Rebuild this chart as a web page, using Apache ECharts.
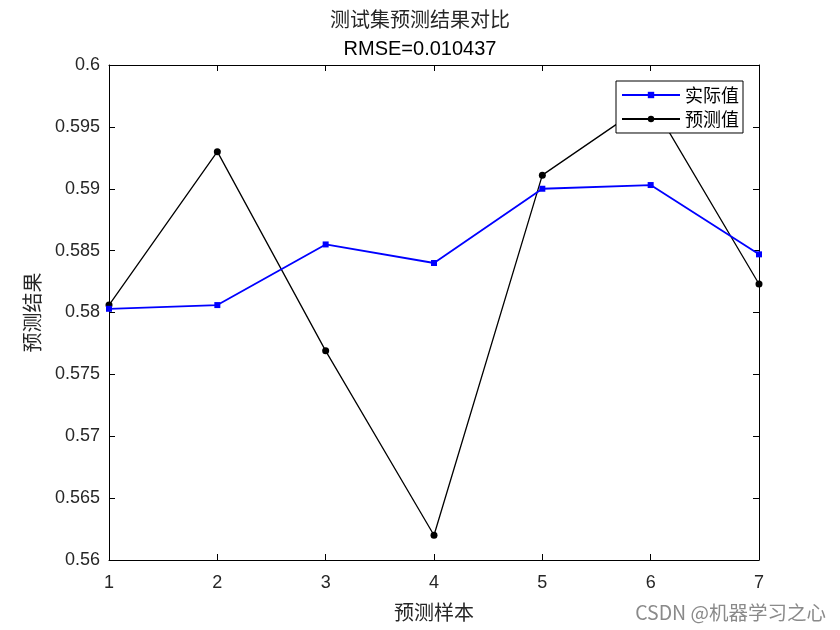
<!DOCTYPE html>
<html><head><meta charset="utf-8">
<script src="https://cdn.jsdelivr.net/npm/echarts@6/dist/echarts.min.js"></script>
<style>html,body{margin:0;padding:0;background:#fff}#c{width:840px;height:630px}</style>
</head><body><div id="c"></div>
<script>
const samples = [1, 2, 3, 4, 5, 6, 7];
const actual = [0.5803, 0.5806, 0.5855, 0.5840, 0.5900, 0.5903, 0.5847];
const predicted = [0.5806, 0.5930, 0.5769, 0.5620, 0.5911, 0.5971, 0.5823];
const titleText = '测试集预测结果对比';
const subText = 'RMSE=0.010437';
const seriesNames = ['实际值', '预测值'];
const xName = '预测样本';
const yName = '预测结果';

const chart = echarts.init(document.getElementById('c'));
const latin = 'Liberation Sans, Arial, sans-serif';
const cjk = 'Noto Sans CJK SC, sans-serif';
const pairs = arr => samples.map((s, i) => [s, arr[i]]);
const fmt = v => String(+(+v).toFixed(3));

chart.setOption({
  backgroundColor: '#fff',
  animation: false,
  title: [
    {text: titleText, left: 'center', top: 4, textStyle: {fontFamily: cjk, fontSize: 20, fontWeight: 'normal', color: '#262626'}},
    {text: subText, left: 'center', top: 34, textStyle: {fontFamily: latin, fontSize: 20, fontWeight: 'normal', color: '#000'}}
  ],
  legend: {
    right: 97, top: 81, orient: 'vertical',
    backgroundColor: '#fff', borderColor: '#000', borderWidth: 1, borderRadius: 0,
    padding: [5, 4, 5, 5], itemGap: 6, itemWidth: 58, itemHeight: 8,
    textStyle: {fontFamily: cjk, fontSize: 18, color: '#000'},
    data: [seriesNames[0], seriesNames[1]]
  },
  grid: {left: 109, right: 81, top: 65, bottom: 70, outerBoundsMode: 'none', containLabel: false},
  xAxis: [{
    type: 'value', min: 1, max: 7, interval: 1,
    name: xName, nameLocation: 'middle', nameGap: 42,
    nameTextStyle: {fontFamily: cjk, fontSize: 20, color: '#262626'},
    axisLine: {lineStyle: {color: '#000'}},
    axisTick: {inside: true, length: 6, lineStyle: {color: '#000'}},
    axisLabel: {fontFamily: latin, fontSize: 18, color: '#262626', margin: 14},
    splitLine: {show: false}
  }, {
    type: 'value', position: 'top', min: 1, max: 7, interval: 1,
    axisLine: {show: true, lineStyle: {color: '#000'}},
    axisTick: {show: true, inside: true, length: 6, lineStyle: {color: '#000'}},
    axisLabel: {show: false}, splitLine: {show: false}
  }],
  yAxis: [{
    type: 'value', min: 0.56, max: 0.6, interval: 0.005,
    name: yName, nameLocation: 'middle', nameGap: 67,
    nameTextStyle: {fontFamily: cjk, fontSize: 20, color: '#262626'},
    axisLine: {show: true, lineStyle: {color: '#000'}},
    axisTick: {show: true, inside: true, length: 6, lineStyle: {color: '#000'}},
    axisLabel: {fontFamily: latin, fontSize: 18, color: '#262626', margin: 9, formatter: fmt},
    splitLine: {show: false}
  }, {
    type: 'value', position: 'right', min: 0.56, max: 0.6, interval: 0.005,
    axisLine: {show: true, lineStyle: {color: '#000'}},
    axisTick: {show: true, inside: true, length: 6, lineStyle: {color: '#000'}},
    axisLabel: {show: false}, splitLine: {show: false}
  }],
  series: [{
    name: seriesNames[0], type: 'line', data: pairs(actual),
    symbol: 'rect', symbolSize: 6,
    lineStyle: {color: '#0000ff', width: 1.8}, itemStyle: {color: '#0000ff'}, z: 3
  }, {
    name: seriesNames[1], type: 'line', data: pairs(predicted),
    symbol: 'circle', symbolSize: 7,
    lineStyle: {color: '#000', width: 1.3}, itemStyle: {color: '#000'}, z: 2
  }],
  graphic: [{
    type: 'text', right: 14, bottom: 8,
    style: {text: 'CSDN @机器学习之心', fontFamily: cjk, fontSize: 19.5, fill: '#8a8a8a'}
  }]
});
</script></body></html>
